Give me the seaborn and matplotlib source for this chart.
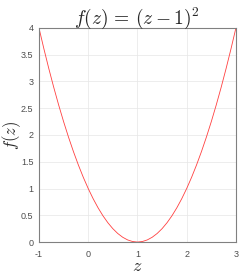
import seaborn as sns
import pandas as pd
import matplotlib.pyplot as plt

# values
z = [-1.0, -0.9, -0.8, -0.7, -0.6, -0.5, -0.4, -0.3, -0.2, -0.1,
     0.0, 0.1, 0.2, 0.3, 0.4, 0.5, 0.6, 0.7, 0.8, 0.9,
     1.0, 1.1, 1.2, 1.3, 1.4, 1.5, 1.6, 1.7, 1.8, 1.9,
     2.0, 2.1, 2.2, 2.3, 2.4, 2.5, 2.6, 2.7, 2.8, 2.9, 3.0]
fz = [4.0, 3.61, 3.24, 2.89, 2.56, 2.25, 1.96, 1.69, 1.44, 1.21,
      1.0, 0.81, 0.64, 0.49, 0.36, 0.25, 0.16, 0.09, 0.04, 0.01,
      0.0, 0.01, 0.04, 0.09, 0.16, 0.25, 0.36, 0.49, 0.64, 0.81,
      1.0, 1.21, 1.44, 1.69, 1.96, 2.25, 2.56, 2.89, 3.24, 3.61, 4.0]
xticks = [-1, 0, 1, 2, 3]
yticks = [0, 0.5, 1, 1.5, 2, 2.5, 3, 3.5, 4]
ytick_labels = ['0', '0.5', '1', '1.5', '2', '2.5', '3', '3.5', '4']

df = pd.DataFrame({'z': z, 'f': fz})

sns.set_style('whitegrid')
plt.rcParams['font.family'] = ['Liberation Sans', 'DejaVu Sans']
plt.rcParams['mathtext.fontset'] = 'cm'

fig = plt.figure(figsize=(2.45, 2.76), dpi=100)
ax = fig.add_axes([0.159, 0.123, 0.804, 0.776])

sns.lineplot(data=df, x='z', y='f', ax=ax, color='#ff4040', linewidth=0.6)

ax.set_xlim(-1, 3)
ax.set_ylim(0, 4)
ax.set_xticks(xticks)
ax.set_xticklabels([str(t) for t in xticks])
ax.set_yticks(yticks)
ax.set_yticklabels(ytick_labels)
ax.grid(True, color='#e6e6e6', linewidth=0.5)
for s in ax.spines.values():
    s.set_color('#808080')
    s.set_linewidth(0.8)
ax.tick_params(axis='both', direction='in', length=2, width=0.5, colors='#808080',
               labelcolor='#4d4d4d', labelsize=6.5)
ax.tick_params(axis='x', pad=6)
ax.tick_params(axis='y', pad=4)

ax.set_title(r'$f(z)\,=\,(z-1)^2$', fontsize=14, pad=3)
ax.set_xlabel(r'$z$', fontsize=13)
ax.set_ylabel(r'$f(z)$', fontsize=12)
ax.xaxis.set_label_coords(0.5, -0.075)
ax.yaxis.set_label_coords(-0.08, 0.5)

plt.savefig('out.png', dpi=100)
